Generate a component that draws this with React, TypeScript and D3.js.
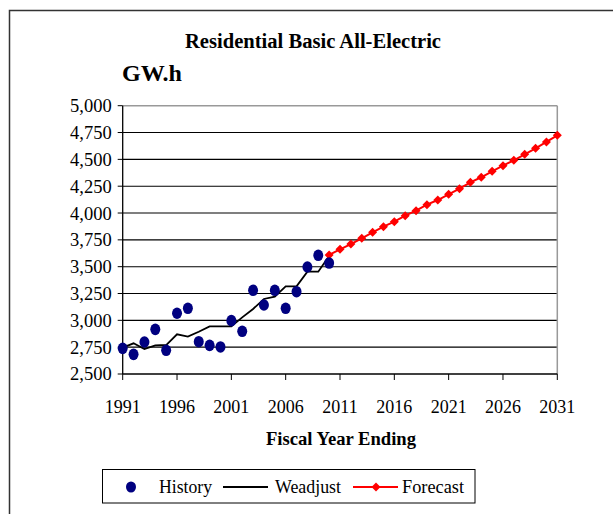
import React from "react";
import { scaleLinear, line } from "d3";

// fiscal years and GW.h values
const historyYears = [1991, 1992, 1993, 1994, 1995, 1996, 1997, 1998, 1999, 2000, 2001, 2002, 2003, 2004, 2005, 2006, 2007, 2008, 2009, 2010];
const historyValues = [2739, 2683, 2798, 2916, 2721, 3066, 3112, 2801, 2767, 2752, 2997, 2898, 3280, 3143, 3280, 3112, 3267, 3497, 3606, 3534];
const weadjustValues = [2745, 2786, 2733, 2767, 2770, 2870, 2848, 2894, 2944, 2944, 2944, 3028, 3106, 3199, 3220, 3317, 3317, 3453, 3453, 3600];
const forecastYears = [2010, 2011, 2012, 2013, 2014, 2015, 2016, 2017, 2018, 2019, 2020, 2021, 2022, 2023, 2024, 2025, 2026, 2027, 2028, 2029, 2030, 2031];
const forecastValues = [3609, 3662, 3711, 3764, 3820, 3873, 3919, 3975, 4022, 4078, 4121, 4174, 4227, 4286, 4333, 4389, 4441, 4491, 4547, 4603, 4662, 4724];
const yTicks = [2500, 2750, 3000, 3250, 3500, 3750, 4000, 4250, 4500, 4750, 5000];
const xTicks = [1991, 1996, 2001, 2006, 2011, 2016, 2021, 2026, 2031];

const FONT = '"Liberation Serif", "Times New Roman", Times, serif';

export default function App() {
  const W = 613;
  const H = 514;
  const left = 122.7;
  const right = 557.3;
  const top = 105.7;
  const bottom = 374;

  const x = scaleLinear().domain([1991, 2031]).range([left, right]);
  const y = scaleLinear().domain([2500, 5000]).range([bottom, top]);

  const lineFn = line<[number, number]>()
    .x(d => x(d[0]))
    .y(d => y(d[1]));

  const weadjust: [number, number][] = historyYears.map((yr, i) => [yr, weadjustValues[i]]);
  const forecast: [number, number][] = forecastYears.map((yr, i) => [yr, forecastValues[i]]);

  const diamond = (cx: number, cy: number, s: number) =>
    `M${cx},${cy - s}L${cx + s},${cy}L${cx},${cy + s}L${cx - s},${cy}Z`;

  const txt = { fontFamily: FONT };

  return (
    <svg
      width={W}
      height={H}
      style={{ position: "absolute", left: 0, top: 0, background: "#fff", fontFamily: FONT }}
    >
      {/* outer frame, runs off the page at right and bottom */}
      <rect x={9.5} y={10.5} width={W + 20} height={H + 20} fill="#fff" stroke="#333" strokeWidth={1.5} />

      <text x={313} y={48} style={txt} textAnchor="middle" fontSize={20} fontWeight="bold" textLength={256} lengthAdjust="spacingAndGlyphs">
        Residential Basic All-Electric
      </text>
      <text x={122} y={81} style={txt} fontSize={23} fontWeight="bold" textLength={60} lengthAdjust="spacingAndGlyphs">
        GW.h
      </text>

      {/* gridlines */}
      {yTicks.slice(1, -1).map(v => (
        <line key={v} x1={left} x2={right} y1={y(v)} y2={y(v)} stroke="#000" strokeWidth={1.1} />
      ))}
      {/* plot border top/right */}
      <line x1={left} x2={right} y1={top} y2={top} stroke="#999" strokeWidth={1.5} />
      <line x1={right} x2={right} y1={top} y2={bottom} stroke="#999" strokeWidth={1.5} />

      {/* y axis */}
      <line x1={left} x2={left} y1={top} y2={bottom} stroke="#000" strokeWidth={1.3} />
      {yTicks.map(v => (
        <g key={v} transform={`translate(0, ${y(v)})`}>
          <line x1={left - 5} x2={left} stroke="#000" />
          <text x={left - 11} dy="0.35em" style={txt} textAnchor="end" fontSize={18.5}>
            {v.toLocaleString("en-US")}
          </text>
        </g>
      ))}

      {/* x axis */}
      <line x1={left} x2={right} y1={bottom} y2={bottom} stroke="#000" strokeWidth={1.3} />
      {xTicks.map(v => (
        <g key={v} transform={`translate(${x(v)}, ${bottom})`}>
          <line y2={6} stroke="#000" />
          <text y={39} style={txt} textAnchor="middle" fontSize={18}>
            {v}
          </text>
        </g>
      ))}
      <text x={(left + right) / 2 + 1} y={445} style={txt} textAnchor="middle" fontSize={18} fontWeight="bold" textLength={150} lengthAdjust="spacingAndGlyphs">
        Fiscal Year Ending
      </text>

      {/* weadjust */}
      <path d={lineFn(weadjust)!} fill="none" stroke="#000" strokeWidth={1.8} />

      {/* forecast */}
      <path d={lineFn(forecast)!} fill="none" stroke="#ff0000" strokeWidth={2} />
      {forecast.map(([yr, v]) => (
        <path key={yr} d={diamond(x(yr), y(v), 4.5)} fill="#ff0000" />
      ))}

      {/* history */}
      {historyYears.map((yr, i) => (
        <ellipse key={yr} cx={x(yr)} cy={y(historyValues[i])} rx={5} ry={5.8} fill="#000080" />
      ))}

      {/* legend */}
      <rect x={102.5} y={469.5} width={372.5} height={33.5} fill="#fff" stroke="#000" strokeWidth={1} />
      <ellipse cx={131} cy={487} rx={5} ry={5.5} fill="#000080" />
      <text x={159} y={493} style={txt} fontSize={18} textLength={53} lengthAdjust="spacingAndGlyphs">History</text>
      <line x1={223} x2={268} y1={487} y2={487} stroke="#000" strokeWidth={1.8} />
      <text x={275} y={493} style={txt} fontSize={18} textLength={66} lengthAdjust="spacingAndGlyphs">Weadjust</text>
      <line x1={353} x2={398} y1={487} y2={487} stroke="#ff0000" strokeWidth={2} />
      <path d={diamond(376, 487, 4.5)} fill="#ff0000" />
      <text x={402} y={493} style={txt} fontSize={18} textLength={62} lengthAdjust="spacingAndGlyphs">Forecast</text>
    </svg>
  );
}
